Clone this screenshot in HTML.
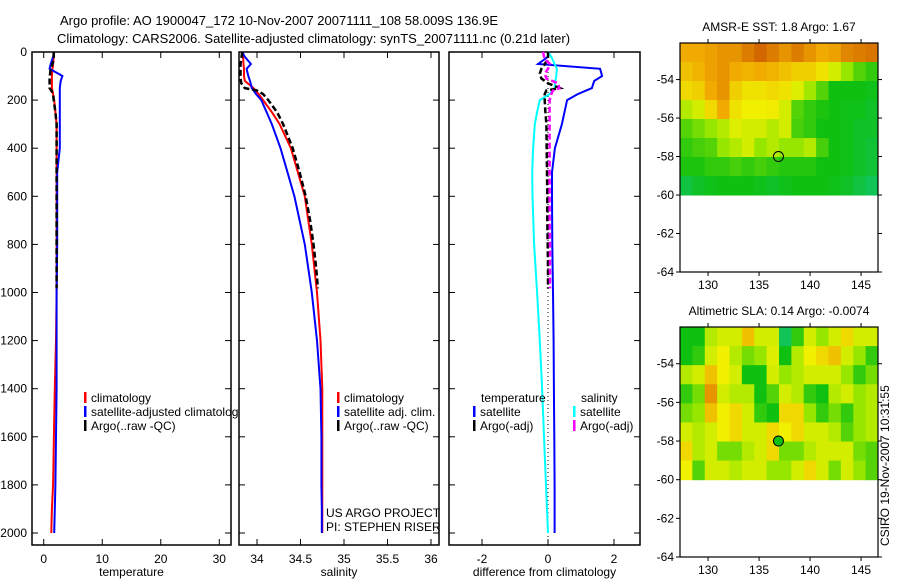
<!DOCTYPE html>
<html><head><meta charset="utf-8">
<style>
body{margin:0;background:#fff;}
svg{display:block;font-family:"Liberation Sans",sans-serif;}
</style></head>
<body>
<svg id="c" width="900" height="580" xmlns="http://www.w3.org/2000/svg">
<defs><clipPath id="p1clip"><rect x="32" y="52" width="207" height="493"/></clipPath></defs>
</svg>
<script>
// ---- data ----
const depthClim = [0,20,50,70,100,120,150,175,200,250,300,400,500,600,800,1000,1200,1400,1600,1800,1900,2000];
const tempClim  = [1.7,1.7,1.6,1.5,1.4,1.4,1.4,1.6,1.8,2.0,2.2,2.2,2.2,2.2,2.2,2.2,2.1,1.9,1.75,1.6,1.4,1.3];
const tempSat   = [1.75,1.6,1.2,1.0,3.2,2.9,2.75,2.75,2.75,2.75,2.75,2.75,2.3,2.3,2.3,2.2,2.2,2.2,2.1,2.0,1.9,1.8];
const depthArgo = [0,30,50,70,90,110,130,150,160,175,200,250,300,400,500,600,700,800,900,983];
const tempArgo  = [1.7,1.7,1.5,1.2,1.1,1.0,1.0,1.0,1.3,1.6,1.7,2.0,2.2,2.2,2.2,2.2,2.2,2.2,2.2,2.2];
const salClim   = [33.835,33.84,33.845,33.85,33.85,33.86,33.96,34.02,34.07,34.17,34.26,34.39,34.47,34.55,34.63,34.69,34.73,34.75,34.75,34.75,34.75,34.75];
const salSat    = [33.83,33.86,33.93,33.88,33.9,33.92,33.94,33.99,34.05,34.11,34.17,34.27,34.35,34.43,34.55,34.63,34.69,34.73,34.74,34.74,34.745,34.745];
const salArgo   = [33.83,33.82,33.81,33.81,33.81,33.81,33.82,33.86,34.0,34.07,34.13,34.23,34.3,34.41,34.49,34.56,34.61,34.65,34.68,34.7];
const dTempSat  = [0,0,-0.3,1.58,1.64,1.4,1.33,0.9,0.58,0.5,0.42,0.21,0.12,0.12,0.13,0.15,0.17,0.18,0.19,0.2,0.2,0.2];
const dTempArgo = [0,0,-0.1,-0.2,-0.25,-0.2,0,0.36,-0.05,-0.1,-0.1,-0.08,-0.05,-0.04,-0.03,-0.02,-0.02,-0.01,0,0];
const dSalSat   = [0,0.1,0.2,0.27,0.25,0.22,0.2,0.05,-0.25,-0.33,-0.4,-0.45,-0.48,-0.47,-0.42,-0.33,-0.25,-0.18,-0.12,-0.06,-0.03,0];
const dSalArgo  = [-0.15,-0.1,0.06,0.0,-0.1,-0.05,0.3,0.35,0.15,0.1,0.05,0.05,0.05,0.05,0.05,0.05,0.05,0.06,0.06,0.06];
const tempTicks = [0,10,20,30];
const salTicks  = [34,34.5,35,35.5,36];
const diffTicks = [-2,0,2];
const depthTicks= [0,200,400,600,800,1000,1200,1400,1600,1800,2000];
const latTicks  = [-54,-56,-58,-60,-62,-64];
const lonTicks  = [130,135,140,145];
const sstGrid = [
[0.8,0.8,0.82,0.85,0.85,0.9,0.95,0.9,0.85,0.9,0.85,0.8,0.82,0.88,0.9,0.92],
[0.75,0.78,0.82,0.85,0.8,0.78,0.8,0.78,0.75,0.72,0.72,0.68,0.6,0.5,0.4,0.35],
[0.7,0.72,0.8,0.85,0.72,0.68,0.68,0.7,0.68,0.62,0.52,0.4,0.3,0.3,0.3,0.28],
[0.55,0.6,0.7,0.8,0.68,0.65,0.65,0.66,0.6,0.4,0.35,0.32,0.3,0.28,0.28,0.25],
[0.4,0.45,0.5,0.55,0.62,0.6,0.6,0.55,0.6,0.38,0.35,0.3,0.3,0.28,0.25,0.25],
[0.35,0.38,0.4,0.5,0.55,0.6,0.5,0.55,0.5,0.5,0.55,0.38,0.3,0.28,0.25,0.22],
[0.32,0.32,0.35,0.35,0.38,0.35,0.38,0.35,0.33,0.33,0.33,0.3,0.3,0.28,0.25,0.22],
[0.2,0.25,0.28,0.3,0.3,0.3,0.28,0.25,0.28,0.3,0.3,0.3,0.28,0.25,0.2,0.15]];
const slaGrid = [
[0.3,0.3,0.55,0.6,0.6,0.75,0.6,0.6,0.15,0.35,0.6,0.5,0.6,0.7,0.6,0.6],
[0.3,0.35,0.6,0.65,0.55,0.45,0.5,0.62,0.3,0.55,0.65,0.7,0.75,0.6,0.5,0.35],
[0.55,0.6,0.75,0.65,0.6,0.3,0.3,0.6,0.5,0.55,0.6,0.6,0.6,0.5,0.35,0.45],
[0.35,0.45,0.85,0.6,0.55,0.55,0.3,0.4,0.6,0.55,0.35,0.3,0.55,0.6,0.5,0.55],
[0.45,0.5,0.75,0.65,0.7,0.6,0.35,0.3,0.7,0.7,0.5,0.35,0.45,0.35,0.5,0.55],
[0.6,0.55,0.6,0.65,0.7,0.6,0.6,0.7,0.65,0.7,0.6,0.6,0.55,0.4,0.5,0.55],
[0.7,0.55,0.6,0.45,0.45,0.55,0.6,0.7,0.45,0.45,0.55,0.6,0.6,0.6,0.45,0.4],
[0.65,0.4,0.6,0.6,0.55,0.6,0.6,0.5,0.5,0.6,0.7,0.6,0.45,0.6,0.5,0.4]];
const floatLon = 136.9, floatLat = -58.0;

// ---- helpers ----
const svg = document.getElementById('c');
const NS = 'http://www.w3.org/2000/svg';
function mk(tag, attrs, parent){const e=document.createElementNS(NS,tag);for(const k in attrs)e.setAttribute(k,attrs[k]);(parent||svg).appendChild(e);return e;}
function txt(s,x,y,anchor,size,parent){const t=mk('text',{x:x,y:y,'text-anchor':anchor||'start','font-size':size||12,fill:'#000'},parent);t.textContent=s;return t;}
const Y0=52, Y1=545;
const yD = d => Y0 + d*0.2405;
function lin(d0,d1,p0,p1){return v=>p0+(v-d0)*(p1-p0)/(d1-d0);}

function panel(name,x0,x1,xs,ticks,label){
  const g=mk('g',{});
  
  
  mk('rect',{x:x0,y:Y0,width:x1-x0,height:Y1-Y0,fill:'none',stroke:'#000','stroke-width':1.5},g);
  ticks.forEach(t=>{const x=xs(t);mk('line',{x1:x,x2:x,y1:Y1,y2:Y1-6,stroke:'#000'},g);mk('line',{x1:x,x2:x,y1:Y0,y2:Y0+6,stroke:'#000'},g);
    const l=txt(String(t),x,563,'middle',12,g);});
  depthTicks.forEach(d=>{const y=yD(d);mk('line',{x1:x0,x2:x0+6,y1:y,y2:y,stroke:'#000'},g);mk('line',{x1:x1,x2:x1-6,y1:y,y2:y,stroke:'#000'},g);});
  const l=txt(label,(x0+x1)/2,576,'middle',12,g);
  return g;
}
function series(name,g,xs,vals,depths,color,w,dash){
  const pts=vals.map((v,i)=>xs(v).toFixed(1)+','+yD(depths[i]).toFixed(1)).join(' ');
  const p=mk('polyline',{points:pts,fill:'none',stroke:color,'stroke-width':w,'stroke-dasharray':dash||'none'},g);
  
  
}
function legend(g,x,y,items){
  items.forEach((it,i)=>{mk('rect',{x:x,y:y+i*14-10,width:2.5,height:11,fill:it[1]},g);
    const t=txt(it[0],x+7,y+i*14,'start',12,g);});
}

// titles
let t=txt('Argo profile: AO 1900047_172 10-Nov-2007 20071111_108 58.009S 136.9E',60,25,'start',13);

t=txt('Climatology: CARS2006. Satellite-adjusted climatology: synTS_20071111.nc (0.21d later)',57,43,'start',13);


// depth labels
depthTicks.forEach(d=>{const l=txt(String(d),27,yD(d)+4,'end',12);});

// temperature panel
const xT=lin(-2,32,32,231);
let g=panel('temperature-panel',32,231,xT,tempTicks,'temperature');
series('temp-climatology',g,xT,tempClim,depthClim,'#f00',2);
series('temp-satellite',g,xT,tempSat,depthClim,'#00f',2);
series('temp-argo',g,xT,tempArgo,depthArgo,'#000',2.5,'6,3');
const lg1=mk('g',{'clip-path':'url(#p1clip)'},g);
legend(lg1,84,402,[['climatology','#f00'],['satellite-adjusted climatology','#00f'],['Argo(..raw -QC)','#000']]);

// salinity panel
const xS=lin(34,36,257,431);
g=panel('salinity-panel',239,439,xS,salTicks,'salinity');
series('sal-climatology',g,xS,salClim,depthClim,'#f00',2);
series('sal-satellite',g,xS,salSat,depthClim,'#00f',2);
series('sal-argo',g,xS,salArgo,depthArgo,'#000',2.5,'6,3');
legend(g,337,402,[['climatology','#f00'],['satellite adj. clim.','#00f'],['Argo(..raw -QC)','#000']]);
t=txt('US ARGO PROJECT',326,517,'start',12,g);
t=txt('PI: STEPHEN RISER',326,531,'start',12,g);

// difference panel
const xDf=lin(-2,2,482,614);
g=panel('difference-panel',449,640,xDf,diffTicks,'difference from climatology');
mk('line',{x1:xDf(0),x2:xDf(0),y1:Y0,y2:Y1,stroke:'#000','stroke-dasharray':'1,3'},g);
series('dtemp-satellite',g,xDf,dTempSat,depthClim,'#00f',2);
series('dsal-satellite',g,xDf,dSalSat,depthClim,'#0ff',2);
series('dtemp-argo',g,xDf,dTempArgo,depthArgo,'#000',2.5,'6,3');
series('dsal-argo',g,xDf,dSalArgo,depthArgo,'#f0f',2.5,'6,3');
t=txt('temperature',481,402,'start',12,g);
t=txt('salinity',581,402,'start',12,g);
legend(g,473,416,[['satellite','#00f'],['Argo(-adj)','#000']]);
legend(g,573,416,[['satellite','#0ff'],['Argo(-adj)','#f0f']]);

// maps
const stops=[[0,[16,200,160]],[0.3,[16,192,16]],[0.5,[150,230,0]],[0.65,[240,240,0]],[0.8,[240,170,0]],[1,[200,80,0]]];
function cmap(v){for(let i=1;i<stops.length;i++){if(v<=stops[i][0]){const a=stops[i-1],b=stops[i];const f=(v-a[0])/(b[0]-a[0]);
  const c=a[1].map((x,k)=>Math.round(x+(b[1][k]-x)*f));return 'rgb('+c.join(',')+')';}}return 'rgb(200,80,0)';}
function map(name,title,top,bottom,grid,titleY,filled){
  const gm=mk('g',{});
  
  
  const xL=lin(127.25,146.66,680,878);
  const yL=lin(-64,-52.1,bottom,top);
  const nr=grid.length,nc=grid[0].length;
  const latTop=-52.1,latBot=-60,lonL=127.25,lonR=146.66;
  grid.forEach((row,r)=>row.forEach((v,c)=>{
    const xa=xL(lonL+(lonR-lonL)*c/nc), xb=xL(lonL+(lonR-lonL)*(c+1)/nc);
    const ya=yL(latTop+(latBot-latTop)*r/nr), yb=yL(latTop+(latBot-latTop)*(r+1)/nr);
    const cell=mk('rect',{x:xa,y:ya,width:xb-xa+0.5,height:yb-ya+0.5,fill:cmap(v)},gm);
    
    
  }));
  mk('rect',{x:680,y:top,width:198,height:bottom-top,fill:'none',stroke:'#000','stroke-width':1.2},gm);
  latTicks.forEach(l=>{const y=yL(l);mk('line',{x1:680,x2:676,y1:y,y2:y,stroke:'#000'},gm);mk('line',{x1:878,x2:882,y1:y,y2:y,stroke:'#000'},gm);
    const lt=txt(String(l),674,y+4,'end',12,gm);});
  lonTicks.forEach(l=>{const x=xL(l);mk('line',{x1:x,x2:x,y1:bottom,y2:bottom+4,stroke:'#000'},gm);mk('line',{x1:x,x2:x,y1:top,y2:top-4,stroke:'#000'},gm);
    const lt=txt(String(l),x,bottom+17,'middle',12,gm);});
  const tt=txt(title,779,titleY,'middle',12,gm);
  const m=mk('circle',{cx:xL(floatLon),cy:yL(floatLat),r:5,fill:filled?'#10c010':'none',stroke:'#000','stroke-width':1},gm);
  
}
map('sst-map','AMSR-E SST: 1.8 Argo: 1.67',43,272,sstGrid,31,false);
map('sla-map','Altimetric SLA: 0.14 Argo: -0.0074',327,557,slaGrid,315,true);
t=txt('CSIRO 19-Nov-2007 10:31:55',0,0,'start',12);
t.setAttribute('transform','translate(889,546) rotate(-90)');

</script>
</body></html>
